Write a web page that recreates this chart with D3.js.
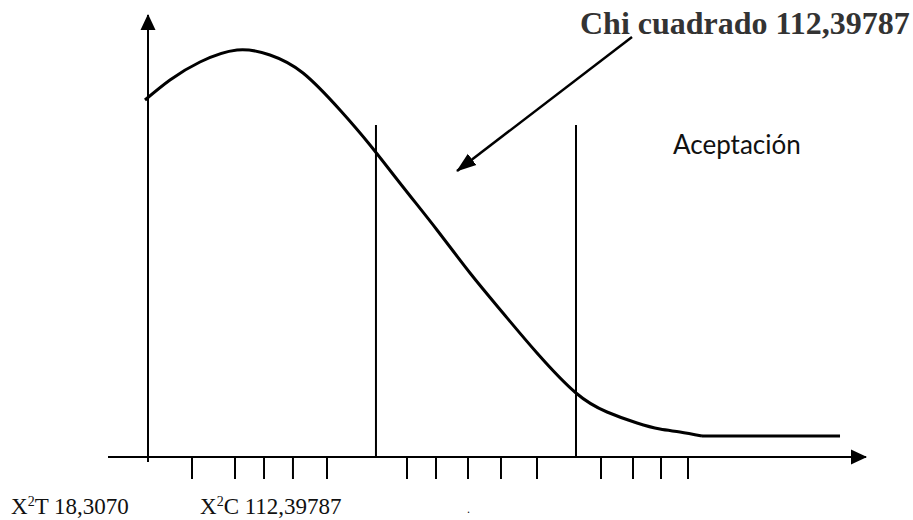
<!DOCTYPE html>
<html>
<head>
<meta charset="utf-8">
<script src="https://cdn.jsdelivr.net/npm/d3@7"></script>
<style>
  html, body { margin: 0; padding: 0; background: #fff; }
  svg { display: block; }
</style>
</head>
<body>
<svg id="chart" width="913" height="520"></svg>
<script>
// ---- data (abstract units: x 0..100, y 0..100) ----
const curveX = [-0.42, 3.06, 7.24, 12.40, 16.99, 21.59, 26.74, 30.92, 35.52, 40.25, 44.85, 49.44, 54.18, 59.61, 63.93, 68.11, 71.30, 74.09, 77.16];
const curveY = [80.77, 85.30, 89.37, 92.08, 90.95, 86.88, 78.51, 70.59, 61.09, 51.36, 41.63, 32.58, 23.53, 14.48, 10.18, 7.69, 6.33, 5.66, 4.75];
const tailX = [77.16, 96.38];
const tailY = [4.75, 4.75];
const tickValues = [6.13, 12.12, 16.16, 20.19, 24.93, 36.07, 40.11, 44.57, 49.16, 54.18, 63.09, 67.55, 71.45, 75.21];
const boundaryX = [31.75, 59.61];
const boundaryTop = 75.11;
const pointerFrom = [67.41, 95.02];
const pointerTo = [43.04, 64.71];
const axisXStart = -5.57;
const axisYStart = -1.13;
const titleText = "Chi cuadrado 112,39787";
const regionText = "Aceptación";
const labelT = ["X", "2", "T 18,3070"];
const labelC = ["X", "2", "C 112,39787"];

// ---- scales ----
const x = d3.scaleLinear().domain([0, 100]).range([148, 866]);
const y = d3.scaleLinear().domain([0, 100]).range([457, 15]);

const svg = d3.select("#chart");
const defs = svg.append("defs");

// arrowheads
defs.append("marker").attr("id", "axisHead")
  .attr("viewBox", "0 0 16 16").attr("refX", 15).attr("refY", 8)
  .attr("markerWidth", 16).attr("markerHeight", 16)
  .attr("markerUnits", "userSpaceOnUse").attr("orient", "auto")
  .append("path").attr("d", "M0,0.5 L16,8 L0,15.5 Z").attr("fill", "#000");

defs.append("marker").attr("id", "ptrHead")
  .attr("viewBox", "0 0 20 16").attr("refX", 19).attr("refY", 8)
  .attr("markerWidth", 20).attr("markerHeight", 16)
  .attr("markerUnits", "userSpaceOnUse").attr("orient", "auto")
  .append("path").attr("d", "M0,1 L20,8 L0,15 Z").attr("fill", "#000");

// x axis
svg.append("line")
  .attr("x1", x(axisXStart)).attr("y1", y(0))
  .attr("x2", x(100)).attr("y2", y(0))
  .attr("stroke", "#000").attr("stroke-width", 2)
  .attr("marker-end", "url(#axisHead)");

// y axis
svg.append("line")
  .attr("x1", x(0)).attr("y1", y(axisYStart))
  .attr("x2", x(0)).attr("y2", y(100))
  .attr("stroke", "#000").attr("stroke-width", 2)
  .attr("marker-end", "url(#axisHead)");

// ticks below the axis
svg.append("g").selectAll("line").data(tickValues).join("line")
  .attr("x1", d => x(d)).attr("x2", d => x(d))
  .attr("y1", y(0)).attr("y2", y(0) + 22)
  .attr("stroke", "#000").attr("stroke-width", 2);

// boundary lines
svg.append("g").selectAll("line").data(boundaryX).join("line")
  .attr("x1", d => x(d)).attr("x2", d => x(d))
  .attr("y1", y(boundaryTop)).attr("y2", y(0))
  .attr("stroke", "#000").attr("stroke-width", 2);

// curve
const pts = curveX.map((v, i) => [v, curveY[i]]);
const line = d3.line().x(d => x(d[0])).y(d => y(d[1])).curve(d3.curveNatural);
svg.append("path").attr("d", line(pts))
  .attr("fill", "none").attr("stroke", "#000").attr("stroke-width", 3);

const tail = tailX.map((v, i) => [v, tailY[i]]);
svg.append("path").attr("d", d3.line().x(d => x(d[0])).y(d => y(d[1]))(tail))
  .attr("fill", "none").attr("stroke", "#000").attr("stroke-width", 3);

// pointer arrow
svg.append("line")
  .attr("x1", x(pointerFrom[0])).attr("y1", y(pointerFrom[1]))
  .attr("x2", x(pointerTo[0])).attr("y2", y(pointerTo[1]))
  .attr("stroke", "#000").attr("stroke-width", 2.5)
  .attr("marker-end", "url(#ptrHead)");

// title
svg.append("text")
  .attr("x", 580).attr("y", 34)
  .attr("font-family", "'Liberation Serif', 'Times New Roman', serif")
  .attr("font-weight", "bold").attr("font-size", 32)
  .attr("fill", "#333")
  .text(titleText);

// region label
svg.append("text")
  .attr("x", 673).attr("y", 154)
  .attr("font-family", "Lato, 'Open Sans', sans-serif")
  .attr("font-size", 26)
  .attr("fill", "#111")
  .text(regionText);

// bottom labels
function supLabel(px, parts) {
  const t = svg.append("text")
    .attr("x", px).attr("y", 514)
    .attr("font-family", "'Liberation Serif', 'Times New Roman', serif")
    .attr("font-size", 23).attr("fill", "#111");
  t.append("tspan").text(parts[0]);
  t.append("tspan").attr("font-size", 14).attr("dy", -8).text(parts[1]);
  t.append("tspan").attr("dy", 8).text(parts[2]);
}
supLabel(11, labelT);
supLabel(200, labelC);

svg.append("text")
  .attr("x", 467).attr("y", 513)
  .attr("font-family", "'Liberation Serif', serif")
  .attr("font-size", 12).attr("fill", "#111")
  .text(".");
</script>
</body>
</html>
